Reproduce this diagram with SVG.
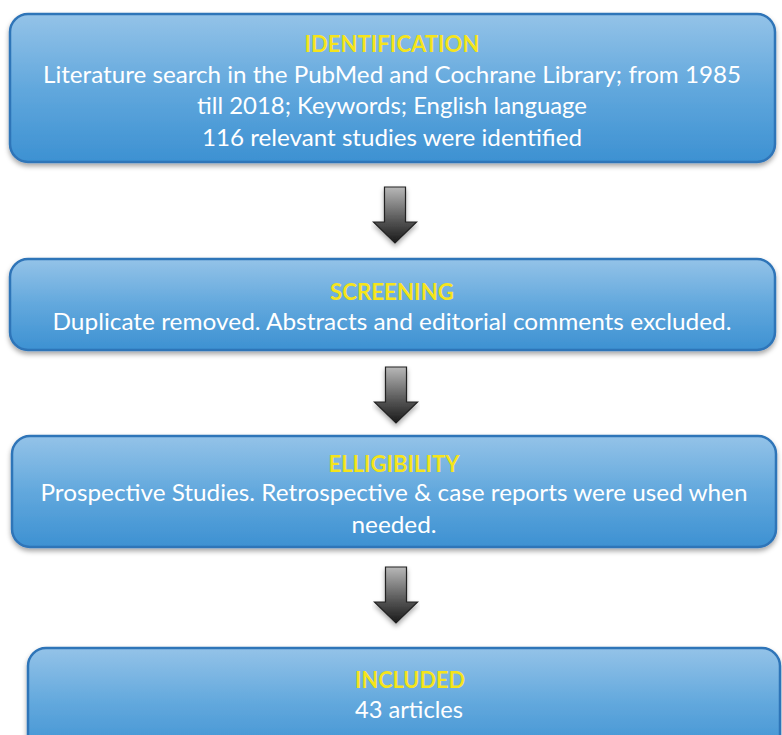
<svg xmlns="http://www.w3.org/2000/svg" width="782" height="735" viewBox="0 0 782 735">
<defs>
<linearGradient id="boxg" x1="0" y1="0" x2="0" y2="1">
<stop offset="0" stop-color="#94c3e8"/>
<stop offset="0.5" stop-color="#62a8dd"/>
<stop offset="1" stop-color="#3d91d2"/>
</linearGradient>
<linearGradient id="arrg" x1="0" y1="0" x2="0" y2="1">
<stop offset="0" stop-color="#b8b8b8"/>
<stop offset="0.6" stop-color="#555"/>
<stop offset="1" stop-color="#1a1a1a"/>
</linearGradient>
<filter id="sh" x="-5%" y="-10%" width="110%" height="130%">
<feDropShadow dx="0" dy="3" stdDeviation="2.5" flood-color="#000" flood-opacity="0.35"/>
</filter>
<path id="arrow" d="M-10.5,0 H10.5 V35 H21.5 L0,56 L-21.5,35 H-10.5 Z"/>
</defs>
<style>
.box{fill:url(#boxg);stroke:#2f74b8;stroke-width:2.5;filter:url(#sh)}
.t{font-family:Lato,"Open Sans","Liberation Sans",sans-serif;font-size:23px;fill:#ffffff;text-anchor:middle}
.h{font-family:Lato,"Open Sans","Liberation Sans",sans-serif;font-size:23px;font-weight:bold;fill:#f5e41c;text-anchor:middle}
.arr{fill:url(#arrg);stroke:#222;stroke-width:1.2;filter:url(#sh)}
</style>
<rect width="782" height="735" fill="#ffffff"/>
<g id="identification">
<rect class="box" x="10" y="14" width="765" height="148" rx="18"/>
<text class="h" x="392" y="52" textLength="175" lengthAdjust="spacingAndGlyphs">IDENTIFICATION</text>
<text class="t" x="392" y="83" textLength="698" lengthAdjust="spacingAndGlyphs">Literature search in the PubMed and Cochrane Library; from 1985</text>
<text class="t" x="392" y="114" textLength="390" lengthAdjust="spacingAndGlyphs">till 2018; Keywords; English language</text>
<text class="t" x="392" y="146" textLength="380" lengthAdjust="spacingAndGlyphs">116 relevant studies were identified</text>
</g>
<g id="screening">
<rect class="box" x="10" y="259" width="765" height="91" rx="18"/>
<text class="h" x="392" y="300" textLength="124" lengthAdjust="spacingAndGlyphs">SCREENING</text>
<text class="t" x="392" y="330" textLength="679" lengthAdjust="spacingAndGlyphs">Duplicate removed. Abstracts and editorial comments excluded.</text>
</g>
<g id="elligibility">
<rect class="box" x="12" y="436" width="764" height="111" rx="18"/>
<text class="h" x="394" y="472" textLength="131" lengthAdjust="spacingAndGlyphs">ELLIGIBILITY</text>
<text class="t" x="394" y="501" textLength="707" lengthAdjust="spacingAndGlyphs">Prospective Studies. Retrospective &amp; case reports were used when</text>
<text class="t" x="394" y="533" textLength="85" lengthAdjust="spacingAndGlyphs">needed.</text>
</g>
<g id="included">
<rect class="box" x="28" y="648" width="752" height="110" rx="18"/>
<text class="h" x="410" y="688" textLength="110" lengthAdjust="spacingAndGlyphs">INCLUDED</text>
<text class="t" x="409" y="718" textLength="108" lengthAdjust="spacingAndGlyphs">43 articles</text>
</g>
<g id="connectors">
<use href="#arrow" class="arr" x="395" y="187"/>
<use href="#arrow" class="arr" x="396" y="367"/>
<use href="#arrow" class="arr" x="396" y="567"/>
</g>
</svg>
